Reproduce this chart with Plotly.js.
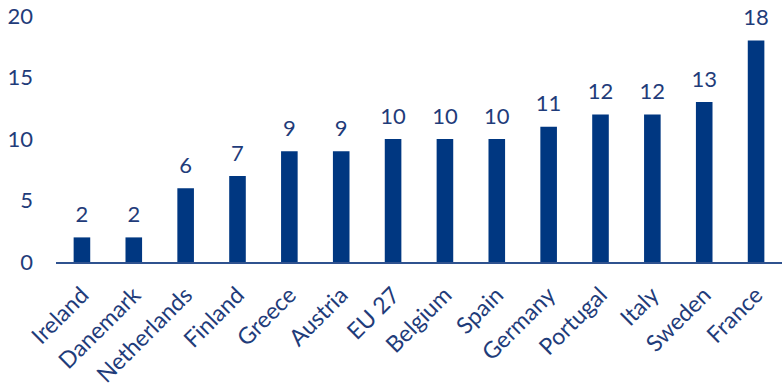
<!DOCTYPE html>
<html>
<head>
<meta charset="utf-8">
<script src="https://cdn.plot.ly/plotly-3.0.1.min.js"></script>
<style>html,body{margin:0;padding:0;background:#fff;}#chart{width:782px;height:390px;}</style>
</head>
<body>
<div id="chart"></div>
<script>
const countries = ["Ireland","Danemark","Netherlands","Finland","Greece","Austria","EU 27","Belgium","Spain","Germany","Portugal","Italy","Sweden","France"];
const values = [2,2,6,7,9,9,10,10,10,11,12,12,13,18];
const yTicks = [0,5,10,15,20];

const barColor = "#003781";
const textColor = "#1F3C7A";
const fontFam = "Lato, 'Open Sans', sans-serif";

Plotly.newPlot("chart", [{
  type: "bar",
  x: countries,
  y: values,
  marker: {color: barColor},
  hoverinfo: "none"
}, {
  type: "scatter",
  mode: "markers+text",
  x: countries,
  y: values,
  text: values.map(String),
  textposition: "top center",
  cliponaxis: false,
  marker: {size: 14, color: "rgba(0,0,0,0)"},
  textfont: {family: fontFam, size: 22, color: textColor},
  hoverinfo: "none"
}], {
  width: 782, height: 390,
  margin: {l: 56, r: 0, t: 16, b: 128},
  paper_bgcolor: "#fff", plot_bgcolor: "#fff",
  bargap: 0.68,
  showlegend: false,
  xaxis: {
    automargin: false,
    range: [-0.5, countries.length - 0.5],
    tickangle: -45,
    tickfont: {family: fontFam, size: 23, color: textColor},
    ticklabelstandoff: 9,
    showline: true, linecolor: "#2F528F", linewidth: 1.5,
    ticks: "", showgrid: false, zeroline: false
  },
  yaxis: {
    automargin: false,
    range: [0, 20],
    tickvals: yTicks,
    ticktext: yTicks.map(String),
    tickfont: {family: fontFam, size: 22, color: textColor},
    ticklabelstandoff: 22,
    showgrid: false, zeroline: false, showline: false,
    ticks: "", ticklen: 0
  }
}, {displayModeBar: false, staticPlot: true});
</script>
</body>
</html>
